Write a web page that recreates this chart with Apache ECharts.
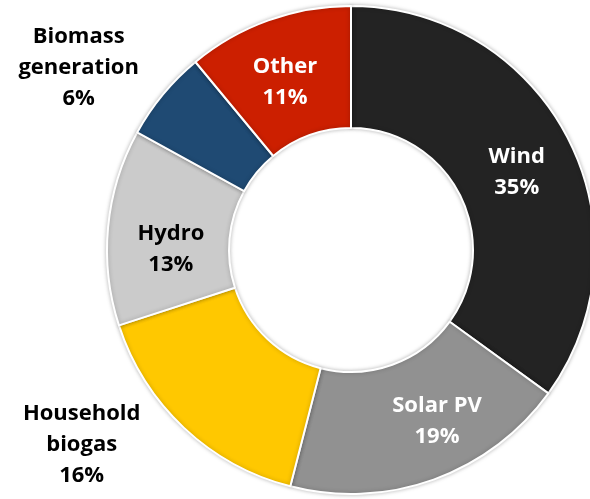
<!DOCTYPE html>
<html>
<head>
<meta charset="utf-8">
<script src="https://cdn.jsdelivr.net/npm/echarts@6/dist/echarts.min.js"></script>
<style>
html, body { margin: 0; padding: 0; background: #fff; }
#chart { width: 590px; height: 499px; }
</style>
</head>
<body>
<div id="chart"></div>
<script>
// 数据
var categories = ['Wind', 'Solar PV', 'Household biogas', 'Hydro', 'Biomass generation', 'Other'];
var shares = [35, 19, 16, 13, 6, 11];

var colors = ['#232323', '#919191', '#ffc800', '#cbcbcb', '#1f4a73', '#cc1f00'];
var textColors = ['#fff', '#fff', '#000', '#000', '#000', '#fff'];
// 标签偏移 (Excel 的标签位置)
var labelShift = [[0, 7], [23, -4], [-142, 59], [5, 17], [-129, -64], [-3, 7]];

var chart = echarts.init(document.getElementById('chart'));

var option = {
	animation: false,
	series: [{
		type: 'pie',
		center: [351, 250],
		radius: [122, 244],
		startAngle: 90,
		clockwise: true,
		avoidLabelOverlap: false,
		itemStyle: {
			borderColor: '#fff',
			borderWidth: 2,
			shadowBlur: 4,
			shadowColor: 'rgba(0,0,0,0.25)'
		},
		label: {
			show: true,
			position: 'inside',
			fontFamily: 'Open Sans',
			fontWeight: 'bold',
			fontSize: 22,
			lineHeight: 31,
			formatter: function (p) {
				var name = p.name.length > 10 ? p.name.replace(' ', '\n') : p.name;
				return name + '\n' + p.value + '%';
			}
		},
		labelLine: { show: false },
		labelLayout: function (p) {
			var s = labelShift[p.dataIndex];
			return { dx: s[0], dy: s[1] };
		},
		data: categories.map(function (name, i) {
			return {
				name: name,
				value: shares[i],
				itemStyle: { color: colors[i] },
				label: { color: textColors[i] }
			};
		})
	}]
};
chart.setOption(option);
</script>
</body>
</html>
